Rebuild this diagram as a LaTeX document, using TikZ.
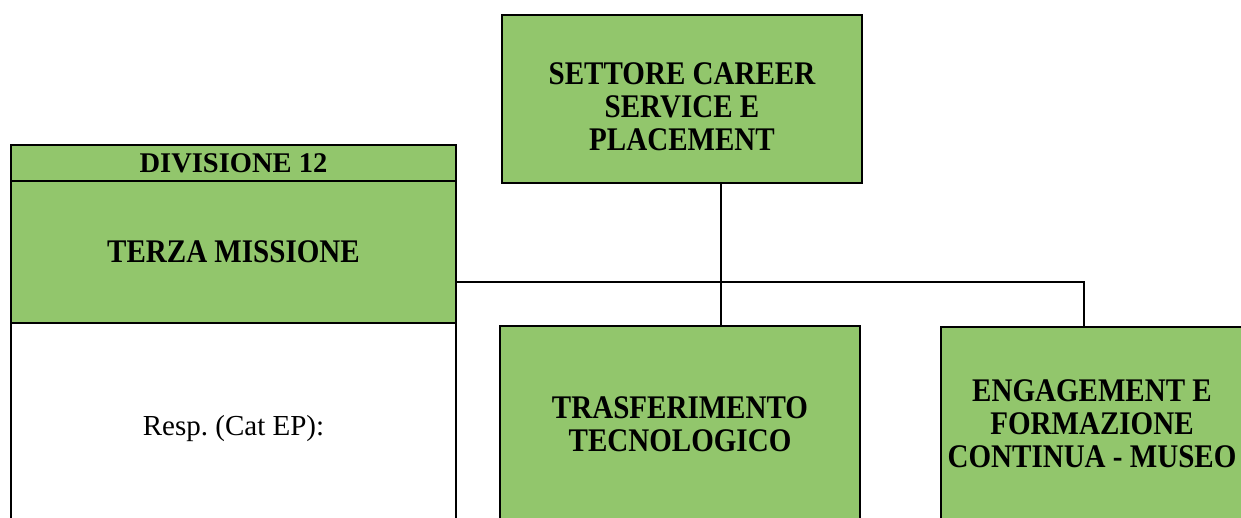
\documentclass[tikz,border=0pt]{standalone}
\usepackage{fontspec}
\setmainfont{Liberation Serif}
\newfontfamily\tallbf{Liberation Serif}[FakeStretch=0.88]
\definecolor{boxgreen}{RGB}{146,198,108}
\newcommand{\lowerby}[2]{\raisebox{-#1}[\height][\depth]{#2}}
\tikzset{
  gbox/.style={draw=black, line width=1.8pt, fill=boxgreen, align=center, inner sep=0pt,
    font=\tallbf\fontsize{33}{33}\selectfont\bfseries},
  wbox/.style={draw=black, line width=1.8pt, fill=white, align=center, inner sep=0pt,
    font=\fontsize{29}{31}\selectfont},
  conn/.style={draw=black, line width=1.8pt}
}
\begin{document}
\begin{tikzpicture}[x=1pt,y=-1pt]
\useasboundingbox (0,0) rectangle (1241,517);
\clip (0,0) rectangle (1241,517);
% left stacked box
\node[gbox, minimum width=445, minimum height=36, font=\fontsize{28.5}{30}\selectfont\bfseries] (div) at (233.5,163) {DIVISIONE 12};
\node[gbox, minimum width=445, minimum height=142] (terza) at (233.5,252) {TERZA MISSIONE};
\node[wbox, minimum width=445, minimum height=212] (resp) at (233.5,429) {Resp.\ (Cat EP):};
% top box
\node[gbox, minimum width=360, minimum height=168] (top) at (682,99)
  {\lowerby{12pt}{\begin{tabular}{@{}c@{}}SETTORE CAREER\\SERVICE E\\PLACEMENT\end{tabular}}};
% lower boxes
\node[gbox, minimum width=360, minimum height=196] (tt) at (680,424) {TRASFERIMENTO\\TECNOLOGICO};
\node[gbox, minimum width=302, minimum height=194] (eng) at (1092,424) {ENGAGEMENT E\\FORMAZIONE\\CONTINUA - MUSEO};
% connectors
\coordinate (j) at (721,282);
\coordinate (r) at (1084,282);
\draw[conn] (top.south -| j) -- (tt.north -| j);
\draw[conn] (terza.east |- j) -- (r) -- (eng.north -| r);
\end{tikzpicture}
\end{document}
